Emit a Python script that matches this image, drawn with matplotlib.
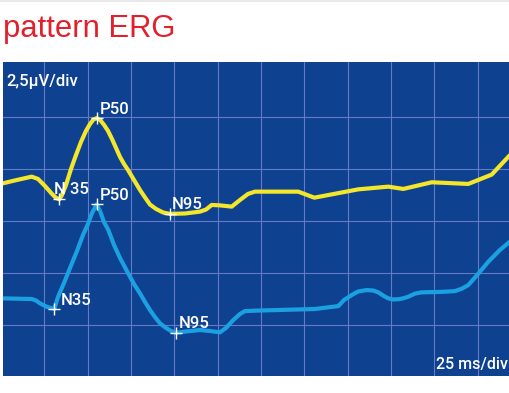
import matplotlib.pyplot as plt
from matplotlib.lines import Line2D

# yellow trace (ms, uV)
t_yellow = [1.15, 8.08, 17.71, 21.35, 25.38, 29.42, 31.73, 33.63, 35.19, 37.50, 40.38, 43.27, 46.15, 49.04, 51.35,
            53.37, 55.21, 57.12, 59.42, 61.73, 64.04, 66.35, 68.65, 70.96, 73.27, 76.73, 80.19, 83.08, 85.96,
            89.42, 93.46, 97.50, 106.15, 114.81, 118.27, 121.56, 126.35, 133.10, 137.88, 142.50, 146.54,
            171.52, 180.75, 206.13, 223.44, 232.10, 248.48, 269.60, 283.10, 293.65]
v_yellow = [9.31, 9.45, 9.63, 9.52, 9.18, 8.80, 8.61, 8.54, 8.75, 9.23, 10.00, 10.67, 11.30, 11.83, 12.16,
            12.38, 12.44, 12.36, 12.12, 11.83, 11.44, 11.01, 10.58, 10.24, 9.95, 9.47, 8.99, 8.63, 8.29,
            8.08, 7.91, 7.84, 7.86, 7.95, 8.05, 8.27, 8.25, 8.19, 8.51, 8.80, 8.91,
            8.91, 8.62, 9.02, 9.15, 9.04, 9.36, 9.28, 9.73, 10.67]

# blue trace (ms, uV)
t_blue = [1.15, 17.71, 20.19, 22.50, 26.54, 30.75, 32.88, 36.35, 39.81, 43.85, 47.31, 50.19, 52.50, 55.21,
          57.12, 59.42, 61.90, 65.19, 68.65, 73.27, 76.73, 80.19, 83.08, 85.96, 88.85, 91.73, 95.19, 98.08,
          100.96, 109.04, 114.81, 120.58, 126.35, 129.81, 134.02, 137.88, 140.77, 146.54, 181.15, 194.60,
          197.88, 202.33, 205.96, 210.98, 214.62, 217.67, 220.38, 223.44, 226.15, 229.21, 231.92, 234.98,
          238.85, 242.71, 253.27, 261.92, 265.96, 269.60, 275.19, 281.13, 287.88, 293.65]
v_blue = [3.78, 3.75, 3.68, 3.54, 3.37, 3.27, 3.85, 4.52, 5.24, 6.06, 6.83, 7.36, 7.88, 8.30,
          7.98, 7.45, 7.07, 6.35, 5.72, 5.00, 4.47, 4.02, 3.61, 3.22, 2.88, 2.58, 2.36, 2.21,
          2.13, 2.21, 2.26, 2.21, 2.15, 2.36, 2.74, 3.03, 3.17, 3.19, 3.27, 3.41,
          3.70, 3.94, 4.11, 4.18, 4.16, 4.07, 3.92, 3.78, 3.73, 3.74, 3.78, 3.86,
          4.01, 4.07, 4.09, 4.13, 4.25, 4.42, 4.95, 5.54, 6.11, 6.51]

# marked peaks
peak_names_yellow = ['N 35', 'P50', 'N95']
peak_t_yellow = [33.63, 55.21, 97.50]
peak_v_yellow = [8.54, 12.44, 7.84]
peak_names_blue = ['N35', 'P50', 'N95']
peak_t_blue = [30.75, 55.21, 100.96]
peak_v_blue = [3.27, 8.30, 2.13]

W, H = 510, 393
bg = '#0e418f'
grid_col = '#6579c9'
yellow = '#f4e62a'
cyan = '#1ba1e2'
lab_font = ['Roboto', 'DejaVu Sans']

fig = plt.figure(figsize=(W / 100, H / 100), dpi=100)
fig.patch.set_facecolor('white')

# thin grey line at the very top
fig.add_artist(Line2D([0, 1], [1 - 1 / H, 1 - 1 / H], color='#e8e8e8', lw=1.5, transform=fig.transFigure))

fig.text(3 / W, 1 - 37.3 / H, 'pattern ERG', color='#e2202b', fontsize=22.3,
         family=['Liberation Sans', 'DejaVu Sans'], va='baseline', ha='left')

ax = fig.add_axes([3 / W, (H - 376) / H, 507 / W, (376 - 62) / H])
ax.set_facecolor(bg)
ax.set_xlim(1.15, 293.65)
ax.set_ylim(0.05, 15.14)
ax.set_xticks([25 * i for i in range(1, 12)])
ax.set_yticks([2.5, 5, 7.5, 10, 12.5])
ax.grid(True, color=grid_col, lw=0.8)
ax.tick_params(length=0, labelbottom=False, labelleft=False)
for s in ax.spines.values():
    s.set_visible(False)

ax.plot(t_yellow, v_yellow, color=yellow, lw=3, solid_joinstyle='round', solid_capstyle='round', zorder=3)
ax.plot(t_blue, v_blue, color=cyan, lw=3, solid_joinstyle='round', solid_capstyle='round', zorder=3)

ax.plot(peak_t_yellow, peak_v_yellow, '+', color='white', ms=9, mew=1, zorder=4)
ax.plot(peak_t_blue, peak_v_blue, '+', color='white', ms=9, mew=1, zorder=4)

# label offsets in points (to baseline)
yellow_offsets = [(-3.8, 3.8), (1.9, 3.1), (1.4, 3.6)]
blue_offsets = [(4.8, 2.7), (1.9, 3.1), (1.7, 3.6)]
for name, t, v, off in zip(peak_names_yellow, peak_t_yellow, peak_v_yellow, yellow_offsets):
    ax.annotate(name, (t, v), xytext=off, textcoords='offset points', color='white',
                fontsize=12, family=lab_font, weight='medium', ha='left', va='baseline', zorder=5)
for name, t, v, off in zip(peak_names_blue, peak_t_blue, peak_v_blue, blue_offsets):
    ax.annotate(name, (t, v), xytext=off, textcoords='offset points', color='white',
                fontsize=12, family=lab_font, weight='medium', ha='left', va='baseline', zorder=5)

ax.text(3 / 507, (376 - 86) / 314, '2,5µV/div', transform=ax.transAxes, color='white',
        fontsize=12, family=lab_font, weight='medium', ha='left', va='baseline')
ax.text((508 - 3) / 507, (376 - 369.3) / 314, '25 ms/div', transform=ax.transAxes, color='white',
        fontsize=11.5, family=lab_font, weight='medium', ha='right', va='baseline')

fig.savefig('out.png', dpi=100, facecolor='white')
